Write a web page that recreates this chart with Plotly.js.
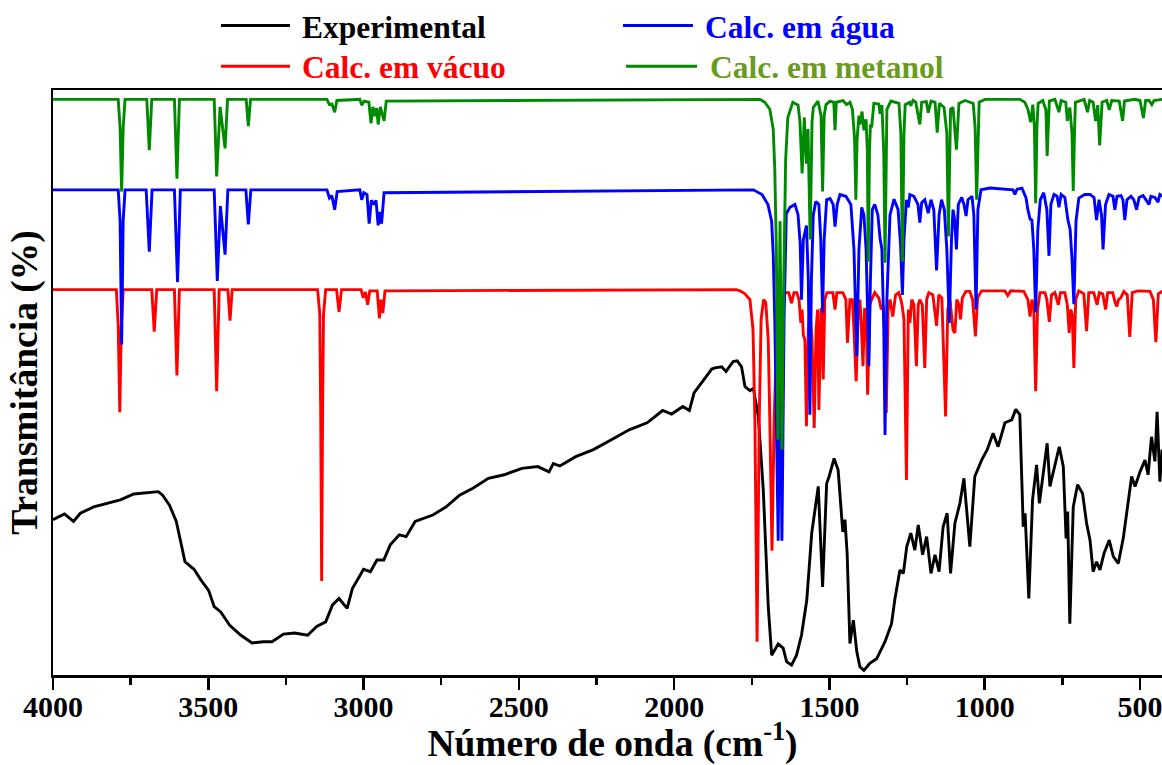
<!DOCTYPE html>
<html><head><meta charset="utf-8">
<script src="https://cdn.plot.ly/plotly-3.0.1.min.js"></script>
<style>html,body{margin:0;padding:0;overflow:hidden;background:#fff}#chart{width:1172px;height:765px}</style>
</head><body><div id="chart"></div><script>
// Series names
const seriesNames = ['Experimental', 'Calc. em vácuo', 'Calc. em água', 'Calc. em metanol'];
const seriesColors = ['#000000', '#FF0000', '#0000FF', '#008A00'];
const labelColors = ['#000000', '#FF0000', '#0000FF', '#6B9B1E'];

// Experimental spectrum [wavenumber, transmittance (offset a.u.)]
const experimental = [[4000,26.8],[3963,27.8],[3934,26.5],[3912,27.9],[3869,29.0],[3826,29.6],[3783,30.2],[3740,31.2],[3697,31.4],[3661,31.6],[3647,31.0],[3625,29.3],[3603,26.5],[3589,22.8],[3575,19.6],[3546,18.3],[3524,16.5],[3499,14.7],[3481,11.9],[3460,11.0],[3431,8.7],[3395,7.0],[3359,5.7],[3323,5.9],[3295,5.9],[3258,7.2],[3222,7.4],[3180,7.0],[3151,8.5],[3122,9.3],[3100,12.2],[3079,13.3],[3053,11.6],[3036,15.0],[3000,18.3],[2978,17.9],[2957,19.9],[2935,19.9],[2914,22.5],[2885,24.2],[2863,23.9],[2834,26.5],[2777,27.6],[2734,29.0],[2691,31.0],[2648,32.2],[2598,33.9],[2547,34.5],[2490,35.6],[2439,35.9],[2403,35.0],[2389,36.4],[2368,36.0],[2317,37.6],[2260,38.8],[2202,40.5],[2145,42.2],[2087,43.4],[2037,45.5],[2008,44.9],[1972,46.2],[1951,45.5],[1936,48.5],[1900,51.1],[1879,52.6],[1869,52.8],[1847,53.0],[1833,52.2],[1810,53.9],[1797,54.0],[1783,53.0],[1772,49.6],[1756,48.9],[1745,49.3],[1729,44.5],[1713,31.9],[1697,11.9],[1686,3.6],[1665,5.5],[1649,4.8],[1638,2.5],[1622,1.9],[1606,3.6],[1590,7.0],[1573,13.0],[1557,24.5],[1536,32.5],[1522,15.3],[1509,33.0],[1501,34.2],[1485,37.3],[1472,35.3],[1457,24.7],[1450,26.8],[1443,21.0],[1434,5.6],[1423,9.6],[1412,4.2],[1402,1.6],[1389,1.0],[1370,2.2],[1348,3.0],[1321,5.9],[1300,9.0],[1289,13.3],[1273,18.2],[1262,17.6],[1251,22.2],[1238,24.5],[1225,21.6],[1214,25.9],[1200,20.8],[1187,23.9],[1173,17.6],[1160,20.8],[1147,17.9],[1134,25.6],[1121,27.9],[1110,17.6],[1096,26.2],[1080,29.6],[1067,33.9],[1048,22.2],[1032,34.2],[1010,37.0],[992,38.8],[973,41.6],[957,39.3],[935,43.4],[913,43.9],[900,45.7],[887,44.8],[876,25.6],[870,27.9],[858,13.3],[846,30.2],[833,36.2],[824,29.6],[799,39.9],[790,32.5],[777,35.3],[760,39.3],[747,35.9],[738,23.6],[733,28.2],[726,9.0],[715,29.0],[701,32.8],[685,31.3],[672,26.2],[661,23.3],[651,17.9],[640,19.6],[629,18.2],[616,21.0],[599,23.3],[586,20.5],[570,19.3],[554,23.6],[541,29.0],[527,34.2],[516,32.5],[500,35.0],[484,37.0],[474,34.5],[463,41.0],[452,36.8],[445,45.3],[436,33.3],[429,38.8],[415,36.0]];

// Calculated (vacuum)
const calcVacuo = [[4000,66.2],[3796,66.2],[3790,60.0],[3785,45.2],[3780,60.0],[3774,66.2],[3682,66.2],[3674,59.0],[3666,66.2],[3609,66.2],[3601,51.5],[3593,66.2],[3481,66.2],[3473,48.8],[3465,66.2],[3437,66.2],[3430,60.9],[3423,66.2],[3148,66.2],[3141,62.0],[3138,45.0],[3135,16.3],[3132,45.0],[3129,62.0],[3122,66.2],[3087,66.2],[3079,62.4],[3071,66.2],[3008,66.2],[3001,64.8],[2994,65.8],[2987,63.6],[2980,66.0],[2956,66.0],[2949,61.3],[2944,64.5],[2938,62.2],[2931,66.0],[1800,66.2],[1788,66.0],[1772,65.5],[1756,64.5],[1746,59.3],[1740,43.9],[1733,5.9],[1726,43.9],[1720,61.1],[1712,64.5],[1705,64.0],[1697,57.6],[1692,43.9],[1685,21.5],[1678,43.9],[1669,59.3],[1653,64.5],[1640,65.7],[1631,65.7],[1622,63.9],[1614,65.7],[1605,65.7],[1598,64.5],[1592,60.5],[1588,62.8],[1584,58.4],[1579,57.6],[1574,42.8],[1568,59.3],[1563,62.8],[1556,57.6],[1549,42.5],[1543,59.3],[1538,62.8],[1534,45.6],[1527,62.8],[1524,62.8],[1520,50.8],[1515,64.5],[1508,65.7],[1489,65.7],[1482,62.8],[1476,65.7],[1457,65.7],[1447,64.5],[1442,57.1],[1434,64.5],[1426,64.5],[1421,59.3],[1414,50.5],[1408,61.1],[1402,64.5],[1398,61.1],[1392,53.1],[1387,62.8],[1382,62.8],[1377,48.2],[1370,63.6],[1364,64.5],[1354,65.7],[1341,64.8],[1333,62.8],[1328,63.6],[1324,61.9],[1317,45.1],[1311,62.8],[1305,64.5],[1296,61.6],[1287,65.3],[1277,65.7],[1270,64.5],[1266,63.5],[1260,61.1],[1252,33.6],[1246,62.8],[1241,60.5],[1235,64.5],[1228,63.6],[1220,53.1],[1214,63.6],[1209,64.5],[1201,63.6],[1193,52.8],[1187,64.5],[1180,65.7],[1167,65.3],[1155,60.0],[1148,65.3],[1138,64.8],[1126,44.5],[1119,62.8],[1112,64.5],[1102,59.3],[1096,58.8],[1090,64.5],[1083,63.6],[1078,61.1],[1072,64.8],[1061,65.9],[1048,65.9],[1039,64.5],[1030,58.2],[1023,64.8],[1010,66.0],[935,66.0],[926,65.2],[916,66.0],[874,65.9],[861,64.5],[854,61.6],[848,64.5],[842,62.8],[836,48.8],[830,62.8],[822,65.7],[806,65.7],[800,64.5],[792,60.7],[785,65.3],[774,65.7],[763,63.6],[756,65.7],[742,65.7],[734,63.6],[728,58.8],[723,62.8],[718,61.9],[713,52.8],[707,64.5],[697,66.0],[681,65.5],[672,59.1],[665,65.7],[649,65.7],[638,63.6],[631,65.7],[620,65.5],[611,62.8],[604,65.7],[588,65.7],[580,64.0],[575,63.3],[569,64.5],[562,64.8],[552,65.9],[541,65.3],[533,58.1],[525,65.7],[507,66.0],[485,66.0],[468,65.9],[457,64.5],[449,57.2],[441,65.5],[429,65.9],[397,66.0]];

// Calculated (water)
const calcAgua = [[4000,83.3],[3790,83.3],[3784,78.0],[3779,56.8],[3774,78.0],[3768,83.3],[3700,83.3],[3690,72.7],[3681,83.3],[3609,83.3],[3599,67.5],[3590,83.3],[3481,83.3],[3471,67.7],[3461,80.5],[3446,72.2],[3437,83.3],[3379,83.3],[3371,77.4],[3363,83.3],[3118,83.3],[3110,81.9],[3102,82.3],[3093,79.9],[3085,83.0],[3012,83.3],[3006,81.6],[2999,82.8],[2989,82.5],[2982,77.5],[2975,81.5],[2967,80.8],[2960,81.5],[2953,77.2],[2948,79.5],[2942,77.5],[2934,82.8],[1745,83.3],[1717,82.5],[1698,80.8],[1686,77.9],[1681,72.2],[1676,61.1],[1665,23.2],[1659,59.3],[1653,23.2],[1646,61.1],[1639,79.2],[1627,80.3],[1611,80.8],[1601,79.0],[1594,73.9],[1590,64.5],[1584,74.8],[1574,77.2],[1568,67.9],[1563,44.8],[1558,67.9],[1552,79.0],[1544,81.3],[1534,80.8],[1528,74.8],[1522,62.3],[1517,74.8],[1509,81.6],[1498,81.8],[1488,80.8],[1482,77.0],[1475,80.8],[1466,82.5],[1447,82.2],[1431,80.8],[1421,73.1],[1412,54.8],[1405,73.1],[1396,80.3],[1389,79.0],[1382,73.1],[1378,64.5],[1373,53.1],[1368,67.9],[1362,79.9],[1354,80.8],[1344,79.0],[1337,75.0],[1331,73.1],[1325,59.3],[1321,41.3],[1315,64.5],[1305,79.0],[1292,81.7],[1279,79.9],[1271,73.9],[1265,65.3],[1260,74.8],[1252,81.6],[1246,80.3],[1241,82.5],[1228,82.2],[1215,80.8],[1209,77.7],[1203,81.1],[1193,81.6],[1182,79.3],[1173,81.6],[1164,79.9],[1155,69.5],[1147,79.0],[1139,81.6],[1130,79.9],[1122,73.1],[1114,60.5],[1107,74.8],[1102,79.9],[1097,78.2],[1091,73.1],[1085,80.8],[1074,82.0],[1067,80.8],[1060,78.8],[1054,81.6],[1041,82.2],[1035,79.0],[1028,62.8],[1022,79.9],[1012,83.3],[983,83.6],[909,83.3],[903,82.5],[896,83.4],[880,83.6],[867,81.9],[861,79.9],[854,78.3],[848,78.1],[842,73.1],[836,62.3],[829,76.5],[821,81.6],[810,82.8],[800,79.9],[793,72.0],[787,80.8],[777,82.5],[767,82.2],[761,80.3],[754,82.5],[742,82.0],[732,78.1],[725,76.5],[719,71.4],[713,63.7],[706,78.0],[697,81.9],[678,82.5],[661,82.5],[648,82.0],[640,78.1],[632,81.6],[624,79.0],[619,73.1],[611,80.8],[600,82.5],[587,82.2],[581,79.9],[574,82.2],[561,82.3],[555,81.6],[549,78.1],[542,81.6],[529,82.2],[520,81.6],[511,79.9],[503,82.0],[490,82.3],[481,81.6],[471,80.8],[465,82.2],[452,82.0],[442,81.2],[436,82.5],[429,82.3],[397,82.5]];

// Calculated (methanol)
const calcMetanol = [[4000,98.8],[3790,98.8],[3784,94.0],[3779,83.0],[3774,94.0],[3768,98.8],[3698,98.8],[3690,90.1],[3682,98.8],[3609,98.8],[3601,85.2],[3593,98.8],[3481,98.8],[3473,85.6],[3462,97.5],[3446,90.4],[3438,98.8],[3378,98.8],[3371,94.2],[3364,98.8],[3118,98.8],[3110,97.9],[3102,98.0],[3093,96.6],[3086,98.6],[3012,98.8],[3006,97.8],[2998,98.5],[2983,98.3],[2976,94.7],[2970,97.5],[2963,95.9],[2958,97.3],[2953,94.5],[2946,97.5],[2934,95.1],[2927,98.5],[1724,98.8],[1708,98.3],[1692,97.1],[1681,93.7],[1676,86.8],[1671,73.1],[1666,40.5],[1659,77.9],[1653,38.8],[1647,67.9],[1641,88.5],[1634,95.7],[1618,98.3],[1601,97.8],[1595,95.0],[1588,86.1],[1581,95.7],[1574,87.8],[1569,93.7],[1562,74.8],[1556,95.0],[1552,97.4],[1537,98.5],[1527,96.0],[1522,83.0],[1517,96.0],[1511,97.9],[1498,98.5],[1486,98.3],[1482,93.5],[1478,98.3],[1456,98.6],[1445,97.9],[1434,98.3],[1426,97.1],[1419,92.0],[1415,81.6],[1411,92.0],[1408,94.5],[1405,96.0],[1402,94.5],[1395,96.7],[1389,93.5],[1382,95.4],[1378,90.0],[1375,71.0],[1371,90.0],[1368,94.5],[1364,94.0],[1357,98.1],[1341,98.0],[1337,96.3],[1331,97.8],[1325,89.4],[1321,70.8],[1317,90.0],[1315,97.1],[1302,98.5],[1276,98.1],[1270,93.0],[1265,71.0],[1260,93.0],[1256,97.9],[1242,98.3],[1238,97.7],[1231,98.6],[1222,98.3],[1209,94.5],[1203,98.3],[1188,98.4],[1182,96.5],[1173,98.5],[1160,98.3],[1153,93.1],[1146,98.1],[1131,97.4],[1122,93.0],[1117,75.3],[1112,93.0],[1110,97.1],[1102,97.4],[1091,90.2],[1083,98.1],[1063,98.6],[1037,98.1],[1031,94.0],[1026,81.6],[1021,94.0],[1018,98.3],[999,98.8],[887,98.8],[871,98.3],[861,97.1],[852,94.9],[845,97.9],[840,94.0],[836,81.0],[832,94.0],[828,98.1],[813,98.6],[803,97.0],[799,89.1],[795,97.0],[792,98.5],[774,98.8],[761,96.6],[754,98.6],[739,98.3],[734,95.1],[726,97.4],[719,93.0],[715,83.1],[711,93.0],[708,98.3],[680,98.8],[669,96.6],[662,98.6],[651,98.3],[643,95.1],[636,97.8],[630,90.9],[622,98.3],[607,98.6],[599,97.0],[591,98.6],[567,98.5],[556,95.1],[550,98.5],[517,98.8],[500,98.6],[489,95.6],[482,98.6],[471,98.6],[462,97.9],[455,98.6],[429,98.8],[397,98.8]];

// Axis ticks
const xTickVals = [4000, 3500, 3000, 2500, 2000, 1500, 1000, 500];
const xTickText = ['4000', '3500', '3000', '2500', '2000', '1500', '1000', '500'];
const xMinorVals = [3750, 3250, 2750, 2250, 1750, 1250, 750];

const FONT = 'Liberation Serif, "Times New Roman", Times, serif';
const allSeries = [experimental, calcVacuo, calcAgua, calcMetanol];

const traces = allSeries.map((s, i) => ({
  type: 'scatter', mode: 'lines', name: seriesNames[i],
  x: s.map(p => p[0]), y: s.map(p => p[1]),
  line: {color: seriesColors[i], width: 2.9, shape: 'linear'},
  hoverinfo: 'skip', showlegend: false
}));

// Manual legend (two rows x two columns)
const legendItems = [
  {name: seriesNames[0], col: 0, row: 0, c: 0},
  {name: seriesNames[2], col: 1, row: 0, c: 2},
  {name: seriesNames[1], col: 0, row: 1, c: 1},
  {name: seriesNames[3], col: 1, row: 1, c: 3}
];
const legLineX = [[0.1501, 0.2118], [0.5094, 0.5719]];
const legLineXr2 = [[0.1501, 0.2118], [0.5121, 0.5755]];
const legTextX = [[0.2207, 0.5809], [0.2207, 0.5853]];
const legRowY = [1.1104, 1.0407];
const legTextY = [1.1069, 1.0385];

const shapes = legendItems.map(it => {
  const xs = it.row === 0 ? legLineX[it.col] : legLineXr2[it.col];
  return {type: 'line', xref: 'paper', yref: 'paper', x0: xs[0], x1: xs[1],
    y0: legRowY[it.row], y1: legRowY[it.row], line: {color: seriesColors[it.c], width: 3}};
});
const annotations = legendItems.map(it => ({
  xref: 'paper', yref: 'paper', x: legTextX[it.row][it.col], y: legTextY[it.row],
  xanchor: 'left', yanchor: 'middle', showarrow: false, text: it.name,
  font: {family: FONT, size: 31.5, color: labelColors[it.c], weight: 'bold'}
}));

const layout = {
  width: 1172, height: 765,
  margin: {l: 53, r: 0, t: 90, b: 90},
  paper_bgcolor: '#ffffff', plot_bgcolor: '#ffffff',
  showlegend: false,
  xaxis: {
    range: [4000, 397], tickvals: xTickVals, ticktext: xTickText,
    ticks: 'outside', ticklen: 12, tickwidth: 2.5, tickcolor: '#000',
    ticklabelstandoff: -9,
    showline: true, linewidth: 2.5, linecolor: '#000', mirror: true,
    showgrid: false, zeroline: false,
    tickfont: {family: FONT, size: 30, color: '#000', weight: 'bold'},
    minor: {tickvals: xMinorVals, ticks: 'outside', ticklen: 7, tickwidth: 2.5, tickcolor: '#000', showgrid: false},
    title: {text: 'Número de onda (cm<sup>-1</sup>)', standoff: 4,
      font: {family: FONT, size: 37.5, color: '#000', weight: 'bold'}}
  },
  yaxis: {
    range: [0.2, 100.4], showticklabels: false, ticks: '',
    showline: true, linewidth: 2.5, linecolor: '#000', mirror: true,
    showgrid: false, zeroline: false,
    title: {text: 'Transmitância (%)', standoff: 2,
      font: {family: FONT, size: 37.5, color: '#000', weight: 'bold'}}
  },
  shapes: shapes,
  annotations: annotations
};

Plotly.newPlot('chart', traces, layout, {displayModeBar: false, staticPlot: true});
</script></body></html>
